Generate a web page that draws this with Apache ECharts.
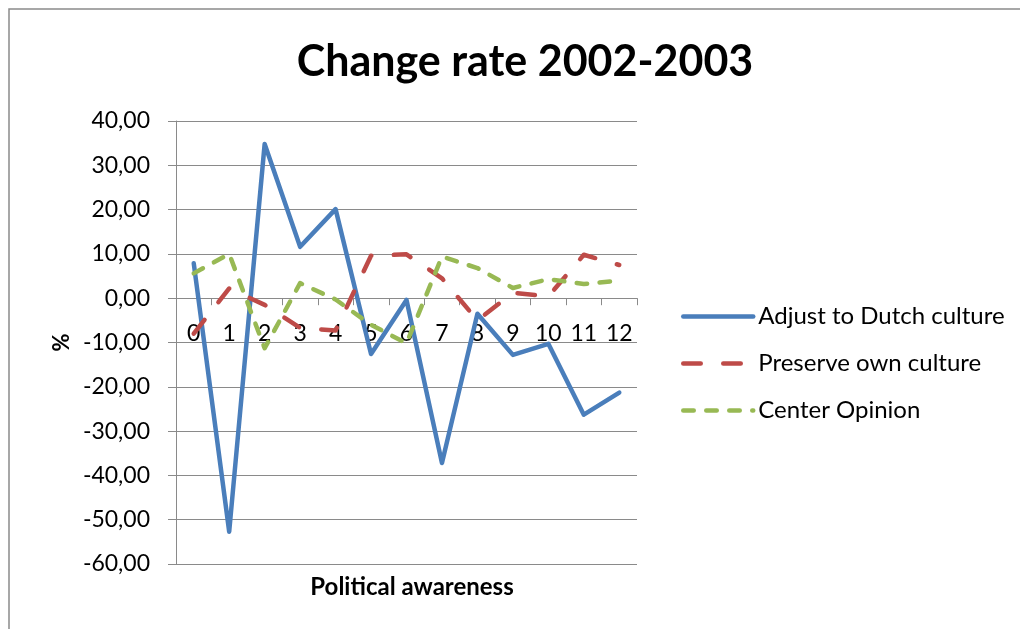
<!DOCTYPE html>
<html>
<head>
<meta charset="utf-8">
<script src="https://cdn.jsdelivr.net/npm/echarts@6/dist/echarts.min.js"></script>
<style>
  html, body { margin: 0; padding: 0; background: #fff; }
  #chart { width: 1020px; height: 629px; }
</style>
</head>
<body>
<div id="chart"></div>
<script>
// Political awareness levels 0..12
const categories = ['0', '1', '2', '3', '4', '5', '6', '7', '8', '9', '10', '11', '12'];

// Change rate 2002-2003 (%) per awareness level
const adjustDutch = [7.9, -52.7, 34.8, 11.6, 20.1, -12.6, -0.4, -37.2, -3.5, -12.8, -10.3, -26.3, -21.3];
const preserveOwn = [-8.0, 2.2, -1.5, -6.7, -7.3, 9.6, 9.9, 4.5, -5.0, 1.2, 0.4, 9.8, 7.5];
const centerOpinion = [5.6, 10.0, -11.3, 3.4, -0.3, -6.0, -10.2, 9.4, 6.8, 2.3, 4.3, 3.2, 4.0];

const seriesNames = ['Adjust to Dutch culture', 'Preserve own culture', 'Center Opinion'];

const FONT = 'Lato, "Open Sans", sans-serif';
const GRID_COLOR = '#8a8a8a';
const GRID = { left: 176, top: 121, width: 461, height: 443 };

const chart = echarts.init(document.getElementById('chart'), null, { renderer: 'canvas' });

chart.setOption({
  backgroundColor: '#ffffff',
  animation: false,
  title: [{
    text: 'Change rate 2002-2003',
    left: 520,
    textAlign: 'center',
    top: 36,
    textStyle: { fontFamily: FONT, fontWeight: 'bold', fontSize: 43, color: '#000' }
  }, {
    // category axis title, centred under the plot
    text: 'Political awareness',
    left: 407,
    textAlign: 'center',
    top: 570,
    textStyle: { fontFamily: FONT, fontWeight: 'bold', fontSize: 24, color: '#000' }
  }],
  graphic: [{
    type: 'polyline',
    shape: { points: [[9, 629], [9, 9], [1020, 9]] },
    style: { stroke: '#8a8a8a', lineWidth: 1.5, fill: null },
    silent: true
  }],
  legend: {
    orient: 'vertical',
    left: 676,
    top: 299,
    itemWidth: 70,
    itemHeight: 14,
    itemGap: 22,
    data: seriesNames,
    itemStyle: { opacity: 0 },
    lineStyle: { width: 4.5, cap: 'round' },
    textStyle: { fontFamily: FONT, fontSize: 24, color: '#000', lineHeight: 25 }
  },
  grid: Object.assign({ containLabel: false }, GRID),
  xAxis: {
    type: 'category',
    data: categories,
    boundaryGap: true,
    axisLine: { onZero: false, lineStyle: { color: GRID_COLOR, width: 1 } },
    axisTick: { show: true, inside: false, length: 7, alignWithLabel: false, lineStyle: { color: GRID_COLOR } },
    axisLabel: { fontFamily: FONT, fontSize: 23, color: '#000', margin: 24, interval: 0 },
    splitLine: { show: false }
  },
  yAxis: {
    type: 'value',
    min: -60,
    max: 40,
    interval: 10,
    name: '%',
    nameLocation: 'middle',
    nameGap: 103,
    nameRotate: 90,
    nameTextStyle: { fontFamily: FONT, fontWeight: 'bold', fontSize: 22, color: '#000' },
    axisLine: { show: true, lineStyle: { color: GRID_COLOR, width: 1 } },
    axisTick: { show: true, inside: false, length: 8, lineStyle: { color: GRID_COLOR } },
    axisLabel: {
      fontFamily: FONT, fontSize: 23, color: '#000', margin: 26,
      formatter: v => v.toFixed(2).replace('.', ',')
    },
    splitLine: { show: true, lineStyle: { color: GRID_COLOR, width: 1 } }
  },
  series: [{
    name: seriesNames[0],
    type: 'line',
    data: adjustDutch,
    symbol: 'none',
    color: '#4a7ebb',
    lineStyle: { width: 4.5, color: '#4a7ebb', cap: 'round', join: 'round' }
  }, {
    name: seriesNames[1],
    type: 'line',
    data: preserveOwn,
    symbol: 'none',
    color: '#be4b48',
    lineStyle: { width: 4.5, color: '#be4b48', type: [17.5, 22.5], cap: 'round', join: 'round' }
  }, {
    name: seriesNames[2],
    type: 'line',
    data: centerOpinion,
    symbol: 'none',
    color: '#98b954',
    lineStyle: { width: 4.5, color: '#98b954', type: [10.5, 12.5], cap: 'round', join: 'round' }
  }]
});

// Category axis crosses the value axis at 0: shift it up from the plot bottom
const zeroY = chart.convertToPixel({ yAxisIndex: 0 }, 0);
chart.setOption({ xAxis: { offset: zeroY - (GRID.top + GRID.height) } });
</script>
</body>
</html>
